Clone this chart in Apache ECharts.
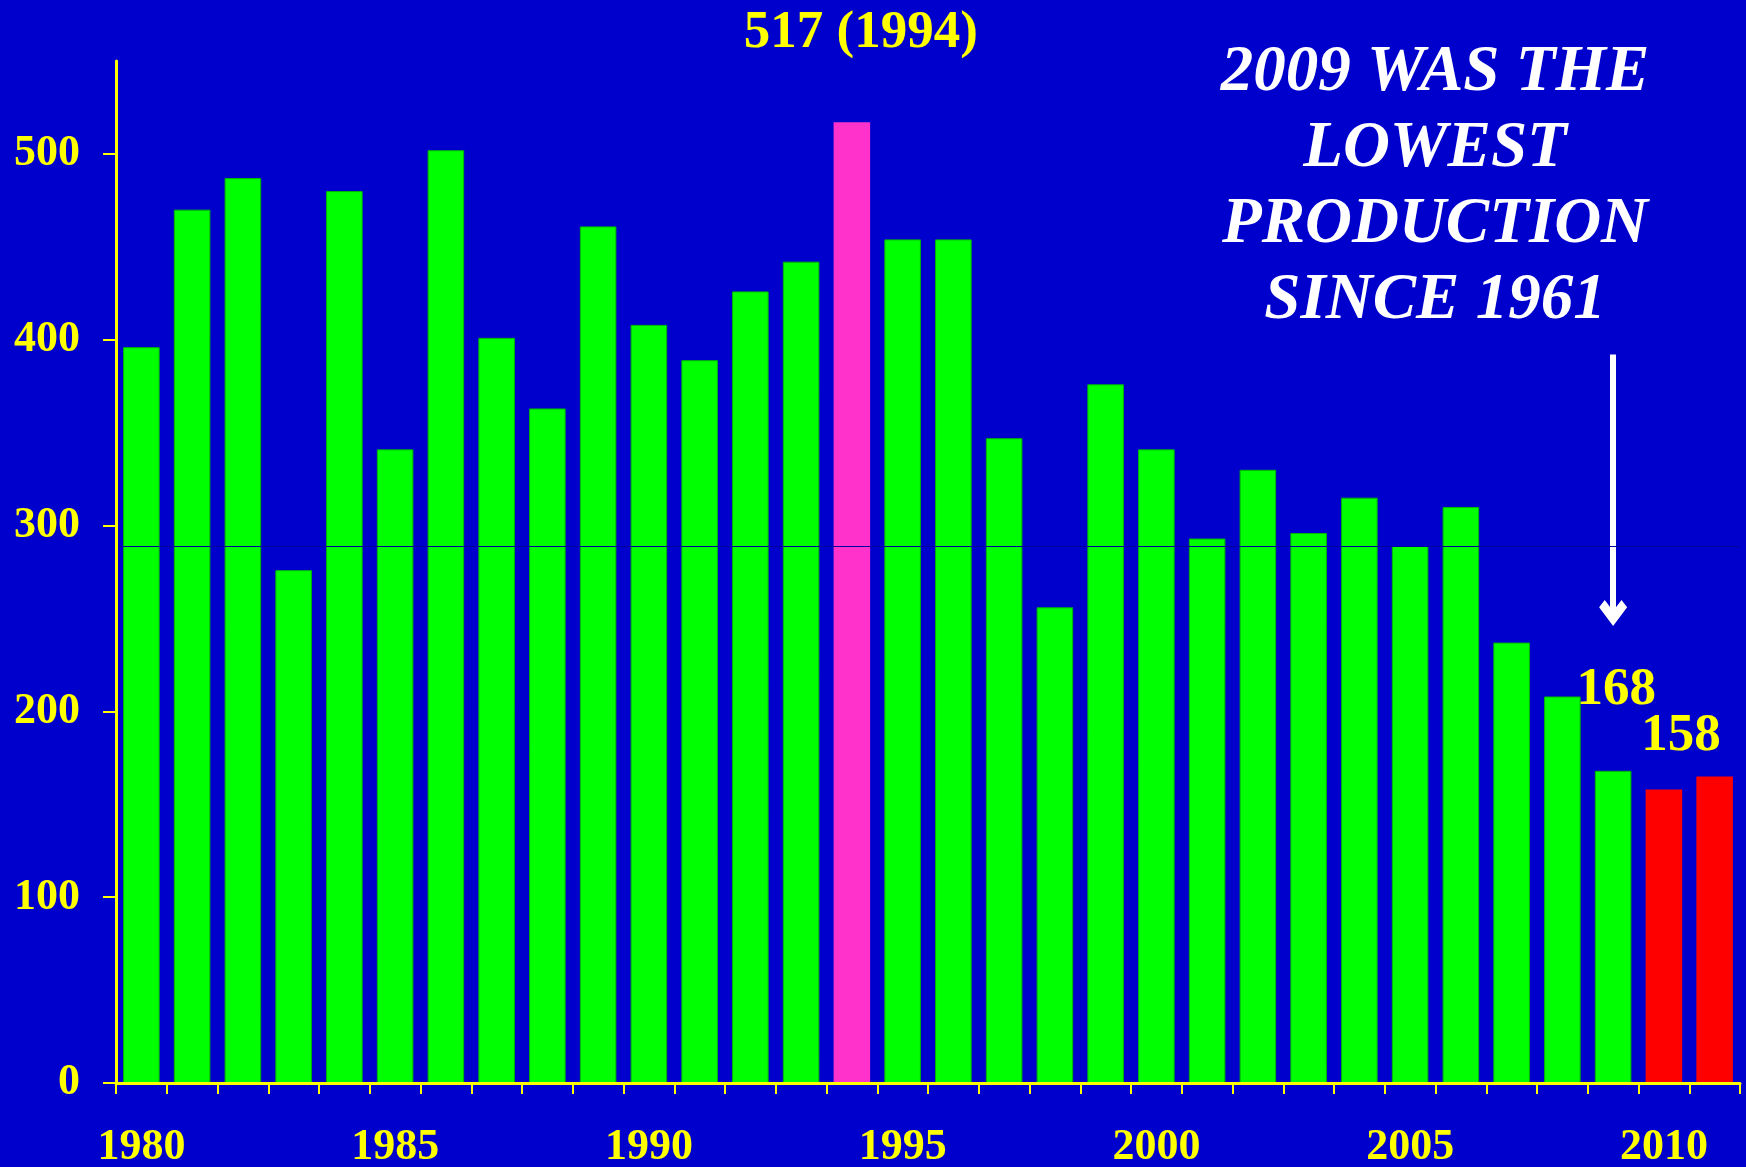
<!DOCTYPE html>
<html lang="en">
<head>
    <meta charset="UTF-8">
    <title>Production 1980-2011</title>
    <script src="https://cdn.jsdelivr.net/npm/echarts@6/dist/echarts.min.js"></script>
    <style>
        html, body { margin: 0; padding: 0; background: #0000cc; }
        #main { width: 1746px; height: 1167px; }
    </style>
</head>
<body>
    <div id="main"></div>
    <script>
        // data
        const years = ['1980', '1981', '1982', '1983', '1984', '1985', '1986', '1987', '1988', '1989',
                       '1990', '1991', '1992', '1993', '1994', '1995', '1996', '1997', '1998', '1999',
                       '2000', '2001', '2002', '2003', '2004', '2005', '2006', '2007', '2008', '2009',
                       '2010', '2011']
        const production = [396, 470, 487, 276, 480, 341, 502, 401, 363, 461,
                            408, 389, 426, 442, 517, 454, 454, 347, 256, 376,
                            341, 293, 330, 296, 315, 289, 310, 237, 208, 168,
                            158, 165]
        const yTicks = [0, 100, 200, 300, 400, 500]
        const peakYear = '1994'
        const recentYears = ['2010', '2011']
        const refLine = 289
        const arrowFrom = 392, arrowTo = 253
        const noteLines = ['2009 WAS THE', 'LOWEST', 'PRODUCTION', 'SINCE 1961']

        const yellow = '#ffff00'
        const serif = 'Liberation Serif'

        // per-bar colours and the few bar labels
        let barData = production.map((v, i) => {
            let y = years[i]
            let item = { value: v, itemStyle: { color: '#00ff00', borderColor: '#00b800', borderWidth: 1 } }
            if (y === peakYear) {
                item.itemStyle = { color: '#ff33cc' }
                item.label = { show: true, formatter: '{c} ({b})', fontSize: 53, offset: [9, -58] }
            }
            if (recentYears.indexOf(y) >= 0) item.itemStyle = { color: '#ff0000' }
            if (y === '2009') item.label = { show: true, formatter: '{c}', fontSize: 53, offset: [3, -49] }
            if (y === '2010') item.label = { show: true, formatter: '{c}', fontSize: 53, offset: [17, -22] }
            return item
        })

        let chart = echarts.init(document.getElementById('main'))
        let option = {
            backgroundColor: '#0000cc',
            animation: false,
            grid: { left: 116, right: 6, top: 61, bottom: 84, outerBoundsMode: 'none' },
            xAxis: {
                type: 'category',
                data: years,
                z: 10,
                axisLine: { show: true, lineStyle: { color: yellow, width: 3 } },
                axisTick: { show: true, interval: 0, length: 11, lineStyle: { color: yellow, width: 2 } },
                axisLabel: {
                    interval: 4, margin: 43, color: yellow,
                    fontFamily: serif, fontWeight: 'bold', fontSize: 44
                }
            },
            yAxis: {
                type: 'value',
                min: 0, max: 550, interval: 100,
                z: 10,
                splitLine: { show: false },
                axisLine: { show: true, lineStyle: { color: yellow, width: 3 } },
                axisTick: { show: true, length: 13, customValues: yTicks, lineStyle: { color: yellow, width: 2 } },
                axisLabel: {
                    customValues: yTicks, margin: 36, color: yellow,
                    fontFamily: serif, fontWeight: 'bold', fontSize: 44
                }
            },
            series: [
                {
                    type: 'bar',
                    data: barData,
                    barCategoryGap: '28%',
                    z: 2,
                    label: {
                        position: 'top', color: yellow,
                        fontFamily: serif, fontWeight: 'bold'
                    }
                },
                {
                    // the arrow pointing at 2009
                    type: 'line',
                    data: [],
                    z: 4,
                    markLine: {
                        silent: true,
                        symbol: ['none', 'path://M10,0 L20,10 L16,14 L10,8 L4,14 L0,10 Z'],
                        symbolSize: [28, 26],
                        label: { show: false },
                        lineStyle: { color: '#ffffff', width: 6, type: 'solid' },
                        data: [[{ coord: ['2009', arrowFrom] }, { coord: ['2009', arrowTo] }]]
                    }
                },
                {
                    // thin dark reference line
                    type: 'line',
                    data: [],
                    z: 11,
                    markLine: {
                        silent: true,
                        symbol: 'none',
                        label: { show: false },
                        lineStyle: { color: '#00009a', width: 1, type: 'solid' },
                        data: [{ yAxis: refLine }]
                    }
                }
            ],
            graphic: [
                {
                    type: 'text',
                    x: 1435, y: 187,
                    style: {
                        text: noteLines.join('\n'),
                        fill: '#ffffff',
                        font: 'italic bold 65px "Liberation Serif"',
                        lineHeight: 76,
                        align: 'center',
                        verticalAlign: 'middle'
                    }
                }
            ]
        }
        chart.setOption(option)
    </script>
</body>
</html>
